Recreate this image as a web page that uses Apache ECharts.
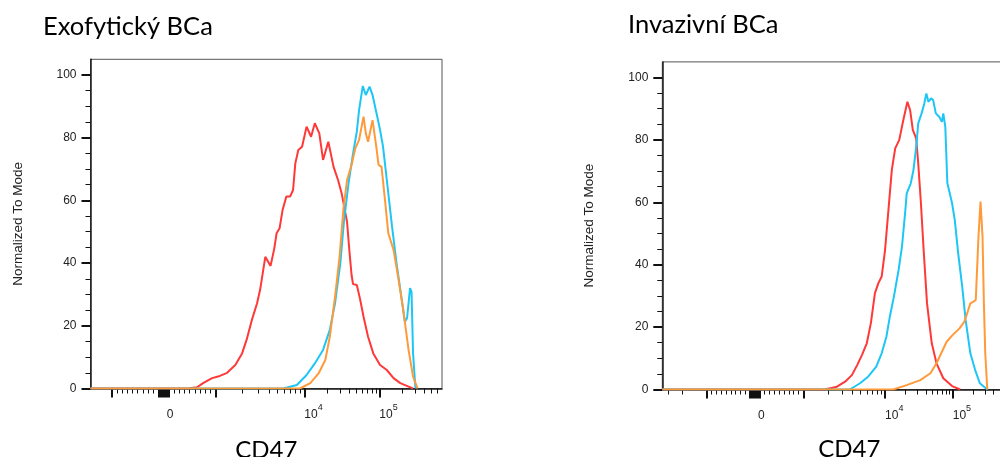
<!DOCTYPE html>
<html>
<head>
<meta charset="utf-8">
<title>CD47</title>
<script src="https://cdn.jsdelivr.net/npm/echarts@6/dist/echarts.min.js"></script>
<style>
  html, body { margin: 0; padding: 0; background: #fff; }
  #chart { width: 1000px; height: 457px; }
</style>
</head>
<body>
<div id="chart"></div>
<script>
// x values are display positions on the biexponential axis (10^4 -> 4, 10^5 -> 5)
// y values are % of mode
const exoRed = [[2.45,0],[2.57,0.4],[2.65,1.7],[2.77,3.3],[2.85,3.8],[2.97,5.0],[3.08,7.5],[3.17,11.2],[3.23,15.5],[3.30,21.8],[3.37,27.2],[3.41,31.4],[3.48,42.0],[3.55,39.1],[3.60,44.7],[3.63,49.5],[3.67,51.1],[3.71,56.9],[3.76,61.2],[3.81,61.2],[3.85,63.3],[3.88,71.8],[3.92,76.1],[3.97,77.1],[4.03,83.5],[4.09,80.3],[4.14,84.6],[4.20,81.4],[4.25,72.9],[4.32,78.7],[4.39,70.7],[4.45,66.5],[4.50,62.0],[4.57,53.1],[4.60,44.2],[4.63,36.2],[4.65,33.3],[4.70,33.0],[4.74,28.9],[4.79,22.9],[4.85,16.5],[4.92,11.2],[5.01,7.5],[5.10,5.9],[5.19,3.3],[5.28,1.7],[5.39,0.6],[5.45,0]]
const exoBlue = [[3.72,0],[3.90,1.1],[4.03,4.3],[4.14,8.0],[4.25,12.3],[4.34,18.7],[4.41,27.2],[4.48,39.9],[4.53,53.7],[4.59,65.5],[4.65,75.0],[4.70,81.9],[4.73,88.8],[4.78,96.5],[4.82,93.6],[4.87,96.3],[4.91,93.6],[4.97,87.0],[5.01,82.5],[5.05,77.1],[5.10,66.5],[5.17,51.6],[5.23,39.9],[5.30,28.2],[5.34,21.3],[5.37,22.4],[5.41,32.0],[5.43,30.8],[5.45,11.2],[5.48,0.6],[5.49,0]]
const exoOrange = [[3.94,0],[4.08,1.7],[4.19,4.8],[4.28,9.1],[4.34,16.5],[4.41,29.3],[4.47,42.0],[4.52,56.9],[4.57,66.5],[4.63,71.3],[4.68,76.6],[4.73,79.3],[4.79,86.7],[4.82,81.4],[4.85,78.7],[4.91,85.6],[4.96,77.1],[4.99,71.3],[5.03,70.7],[5.08,59.1],[5.12,49.5],[5.19,44.2],[5.25,35.7],[5.32,25.0],[5.39,12.3],[5.45,3.8],[5.51,0]]

const invRed = [[3.11,0],[3.29,0.9],[3.41,2.5],[3.51,4.6],[3.59,7.9],[3.66,11.1],[3.73,14.8],[3.79,21.2],[3.85,30.8],[3.90,34.0],[3.95,36.2],[4.00,44.7],[4.05,57.5],[4.10,70.4],[4.15,77.3],[4.21,80.0],[4.27,86.4],[4.33,92.2],[4.37,89.6],[4.41,83.2],[4.46,80.5],[4.49,72.5],[4.53,59.7],[4.57,44.7],[4.62,27.6],[4.69,14.8],[4.76,8.4],[4.86,3.6],[4.99,1.1],[5.11,0]]
const invBlue = [[3.48,0],[3.63,2.0],[3.75,4.1],[3.87,7.3],[3.95,11.6],[4.02,16.9],[4.07,23.3],[4.13,29.7],[4.20,38.3],[4.25,45.8],[4.30,57.5],[4.32,62.9],[4.38,66.1],[4.42,70.4],[4.46,77.8],[4.49,85.3],[4.54,88.5],[4.58,91.7],[4.61,94.9],[4.64,92.2],[4.68,93.3],[4.71,92.8],[4.75,88.5],[4.80,87.4],[4.84,85.8],[4.86,88.5],[4.89,84.2],[4.92,66.2],[4.99,59.7],[5.03,54.3],[5.08,43.7],[5.14,32.9],[5.19,22.3],[5.26,11.6],[5.33,6.3],[5.40,2.0],[5.51,0]]
const invOrange = [[4.12,0],[4.32,1.4],[4.52,3.0],[4.67,5.2],[4.76,8.4],[4.84,12.1],[4.91,15.3],[5.00,17.5],[5.10,19.6],[5.17,21.7],[5.22,24.9],[5.26,27.6],[5.30,28.1],[5.34,28.7],[5.38,49.0],[5.41,60.2],[5.44,49.0],[5.46,27.6],[5.48,11.6],[5.51,0]]

const panelTitles = ['Exofytický BCa', 'Invazivní BCa']
const lineColors = ['#ff3838', '#1dc6f4', '#ff9a3a']

// axis ticks, in CD47 intensity units
const xLabelValues = [0, 1e4, 1e5]
const xLabelBase = ['0', '10', '10']
const xLabelExp = ['', '4', '5']
const yMajorTicks = [0, 20, 40, 60, 80, 100]
const yMinorTicks = [5, 10, 15, 25, 30, 35, 45, 50, 55, 65, 70, 75, 85, 90, 95]

const font = 'Liberation Sans, Arial, sans-serif'

let myChart

// biex axis: linear up to 1000, then log
function makeScale (u0, u1k) {
  return v => {
    const a = Math.abs(v)
    let d
    if (a <= 1000) d = (u1k - u0) * a / 1000
    else if (a <= 1e4) d = (u1k - u0) + Math.log10(a / 1000) * (4 - u1k)
    else d = (4 - u0) + Math.log10(a / 1e4)
    return v < 0 ? u0 - d : u0 + d
  }
}

function tickSets (scale, min, max) {
  let major = [-1000, 0, 1000, 1e4, 1e5]
  for (let k = 10; k <= 100; k += 10) major.push(k, -k)
  let minor = []
  for (let k = 200; k <= 900; k += 100) minor.push(k, -k)
  for (let m = 2; m <= 9; m++) minor.push(m * 1e3, -m * 1e3, m * 1e4, m * 1e5)
  const inside = u => u >= min && u <= max
  return {
    major: major.map(scale).filter(inside),
    minor: minor.map(scale).filter(inside)
  }
}

function initChart () {
  myChart = echarts.init(document.getElementById('chart'))
  renderChart()
}

function renderChart () {
  const panels = [
    {grid: {left: 90.5, top: 59.3, width: 351.5, height: 329.2}, xMin: 1.149, xMax: 5.836, u0: 2.125, u1k: 2.819,
      lines: [exoRed, exoBlue, exoOrange], titleX: 43, titleY: 27, nameGap: 50, yNameGap: 65.5},
    {grid: {left: 662.3, top: 61.9, width: 374, height: 327.6}, xMin: 0.710, xMax: 6.234, u0: 2.080, u1k: 2.793,
      lines: [invRed, invBlue, invOrange], titleX: 628, titleY: 25, nameGap: 48, yNameGap: 66}
  ]

  const grid = [], xAxis = [], yAxis = [], series = [], graphic = []
  panels.forEach((p, i) => {
    const scale = makeScale(p.u0, p.u1k)
    const ticks = tickSets(scale, p.xMin, p.xMax)
    const labelPos = xLabelValues.map(scale)
    grid.push(Object.assign({show: true, borderColor: '#555', borderWidth: 1, containLabel: false, outerBoundsMode: 'none'}, p.grid))

    xAxis.push({
      gridIndex: i, type: 'value', position: 'bottom', min: p.xMin, max: p.xMax,
      axisLine: {show: true, onZero: false, lineStyle: {color: '#1a1a1a', width: 1.5}},
      axisTick: {show: true, customValues: ticks.major, length: 9, lineStyle: {color: '#111', width: 2}},
      axisLabel: {
        customValues: labelPos, margin: 15, align: 'left',
        formatter: val => {
          let k = 0
          labelPos.forEach((u, j) => { if (Math.abs(u - val) < Math.abs(labelPos[k] - val)) k = j })
          return xLabelExp[k] ? '{b|' + xLabelBase[k] + '}{s|' + xLabelExp[k] + '}' : '{z|' + xLabelBase[k] + '}'
        },
        rich: {
          b: {fontSize: 12, fontFamily: font, color: '#222', padding: [5, 0, 0, 0]},
          s: {fontSize: 9, fontFamily: font, color: '#222', verticalAlign: 'top'},
          z: {fontSize: 12, fontFamily: font, color: '#222', padding: [5, 0, 0, 3]}
        }
      },
      splitLine: {show: false},
      name: 'CD47', nameLocation: 'middle', nameGap: p.nameGap,
      nameTextStyle: {fontFamily: 'Lato', fontSize: 24, color: '#000'}
    })
    xAxis.push({
      gridIndex: i, type: 'value', position: 'bottom', min: p.xMin, max: p.xMax,
      axisLine: {show: false},
      axisTick: {show: true, customValues: ticks.minor, length: 5, lineStyle: {color: '#111', width: 1}},
      axisLabel: {show: false}, splitLine: {show: false}
    })

    yAxis.push({
      gridIndex: i, type: 'value', position: 'left', min: 0, max: 105,
      axisLine: {show: true, onZero: false, lineStyle: {color: '#1a1a1a', width: 1.5}},
      axisTick: {show: true, customValues: yMajorTicks, length: 9, lineStyle: {color: '#111', width: 2}},
      axisLabel: {customValues: yMajorTicks, margin: 14, fontSize: 12, fontFamily: font, color: '#222'},
      splitLine: {show: false},
      name: 'Normalized To Mode', nameLocation: 'middle', nameRotate: 90, nameGap: p.yNameGap,
      nameTextStyle: {fontSize: 13.5, fontFamily: font, color: '#222'}
    })
    yAxis.push({
      gridIndex: i, type: 'value', position: 'left', min: 0, max: 105,
      axisLine: {show: false},
      axisTick: {show: true, customValues: yMinorTicks, length: 5, lineStyle: {color: '#111', width: 1}},
      axisLabel: {show: false}, splitLine: {show: false}
    })

    p.lines.forEach((pts, j) => {
      series.push({
        type: 'line', xAxisIndex: i * 2, yAxisIndex: i * 2,
        data: [[p.xMin, 0]].concat(pts),
        showSymbol: false, symbol: 'none', clip: true,
        lineStyle: {color: lineColors[j], width: 2},
        itemStyle: {color: lineColors[j]}
      })
    })

    graphic.push({
      type: 'text', x: p.titleX, y: p.titleY,
      style: {text: panelTitles[i], fontFamily: 'Lato', fontSize: 25.5, fill: '#000', verticalAlign: 'middle'}
    })
  })

  myChart.setOption({animation: false, grid, xAxis, yAxis, series, graphic})
}

initChart()
</script>
</body>
</html>
